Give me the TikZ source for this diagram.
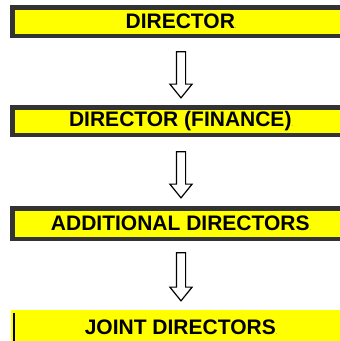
\documentclass[tikz,border=0pt]{standalone}
\usepackage{fontspec}
\setmainfont{Liberation Sans}
\usepackage{xcolor}
\usepackage{tikz}
\usetikzlibrary{shapes.arrows}
\definecolor{rankyellow}{RGB}{255,255,0}
\definecolor{rankgray}{RGB}{51,51,51}

\begin{document}
\begin{tikzpicture}[
  x=1pt, y=-1pt,
  font=\fontsize{21}{24}\selectfont\bfseries,
  rank/.style={draw=rankgray, fill=rankyellow, line width=4.5pt, minimum width=337.5pt, inner sep=0pt},
  lastrank/.style={fill=rankyellow, minimum width=340pt, minimum height=34pt, inner sep=0pt},
  downarr/.style={single arrow, draw=black, fill=white, line width=1.2pt, inner sep=4pt,
    single arrow head extend=6.5pt, single arrow tip angle=78,
    shape border rotate=270},
]
\useasboundingbox (0,0) rectangle (340,341);
\newcommand{\dotend}{{\fontsize{5}{6}\selectfont\color{gray}.}}

% ============ Ranks, top to bottom ============
\node[rank, minimum height=28.5pt] (director) at (181,21.5) {DIRECTOR\dotend};
\node[rank, minimum height=27.5pt] (finance) at (181,121) {DIRECTOR (FINANCE)\dotend};
\node[rank, minimum height=30.5pt] (additional) at (181,223.5) {ADDITIONAL DIRECTORS\dotend};
\node[lastrank] (joint) at (181,327) {JOINT DIRECTORS\dotend};
% black edge on the left of the last rank
\draw[line width=2pt] ([xshift=3pt,yshift=-3pt]joint.north west) -- ([xshift=3pt]joint.south west);

% ============ Block arrows between ranks ============
\node[downarr, minimum height=46pt] (arr1) at (181,72) {};
\node[downarr, minimum height=46pt] (arr2) at (181,172) {};
\node[downarr, minimum height=48pt] (arr3) at (181,274) {};

\end{tikzpicture}
\end{document}
